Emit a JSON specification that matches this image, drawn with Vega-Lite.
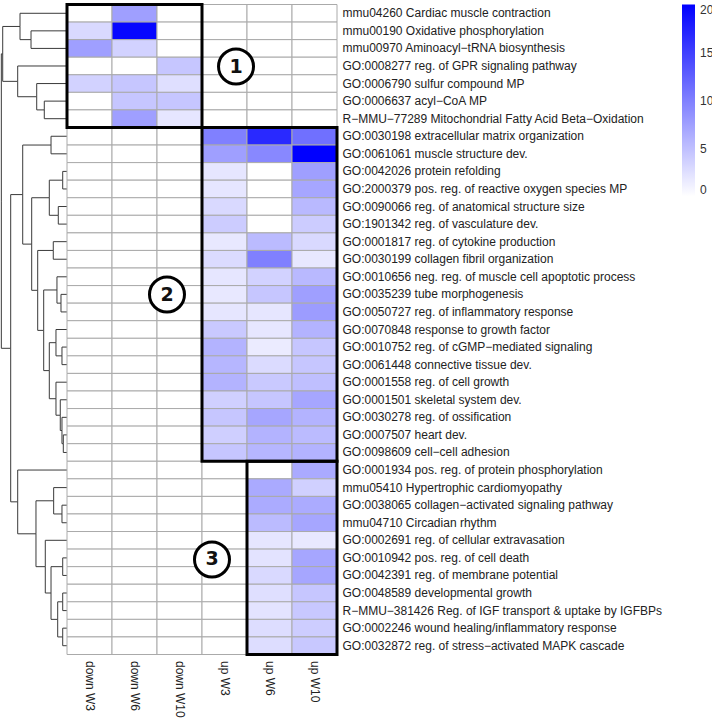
{
  "$schema": "https://vega.github.io/schema/vega-lite/v6.json",
  "padding": {"left": 0, "top": 2.5, "right": 0, "bottom": 0},
  "config": {
    "view": {"stroke": null},
    "font": "Liberation Sans"
  },
  "spacing": 0,
  "bounds": "flush",
  "datasets": {
    "cells": [
      {"term": "mmu04260 Cardiac muscle contraction", "down W3": 0, "down W6": 7.5, "down W10": 0, "up W3": 0, "up W6": 0, "up W10": 0},
      {"term": "mmu00190 Oxidative phosphorylation", "down W3": 3, "down W6": 19.5, "down W10": 0, "up W3": 0, "up W6": 0, "up W10": 0},
      {"term": "mmu00970 Aminoacyl−tRNA biosynthesis", "down W3": 7.5, "down W6": 3.5, "down W10": 0, "up W3": 0, "up W6": 0, "up W10": 0},
      {"term": "GO:0008277 reg. of GPR signaling pathway", "down W3": 0, "down W6": 0, "down W10": 4.5, "up W3": 0, "up W6": 0, "up W10": 0},
      {"term": "GO:0006790 sulfur compound MP", "down W3": 3.5, "down W6": 4.5, "down W10": 2.5, "up W3": 0, "up W6": 0, "up W10": 0},
      {"term": "GO:0006637 acyl−CoA MP", "down W3": 0, "down W6": 4.5, "down W10": 4.5, "up W3": 0, "up W6": 0, "up W10": 0},
      {"term": "R−MMU−77289 Mitochondrial Fatty Acid Beta−Oxidation", "down W3": 0, "down W6": 7.5, "down W10": 2, "up W3": 0, "up W6": 0, "up W10": 0},
      {"term": "GO:0030198 extracellular matrix organization", "down W3": 0, "down W6": 0, "down W10": 0, "up W3": 10, "up W6": 16.8, "up W10": 11.2},
      {"term": "GO:0061061 muscle structure dev.", "down W3": 0, "down W6": 0, "down W10": 0, "up W3": 7.5, "up W6": 9.3, "up W10": 20},
      {"term": "GO:0042026 protein refolding", "down W3": 0, "down W6": 0, "down W10": 0, "up W3": 2, "up W6": 0, "up W10": 7.5},
      {"term": "GO:2000379 pos. reg. of reactive oxygen species MP", "down W3": 0, "down W6": 0, "down W10": 0, "up W3": 2, "up W6": 0, "up W10": 7},
      {"term": "GO:0090066 reg. of anatomical structure size", "down W3": 0, "down W6": 0, "down W10": 0, "up W3": 3, "up W6": 0, "up W10": 5.5},
      {"term": "GO:1901342 reg. of vasculature dev.", "down W3": 0, "down W6": 0, "down W10": 0, "up W3": 4, "up W6": 0, "up W10": 4},
      {"term": "GO:0001817 reg. of cytokine production", "down W3": 0, "down W6": 0, "down W10": 0, "up W3": 1.8, "up W6": 5.3, "up W10": 3},
      {"term": "GO:0030199 collagen fibril organization", "down W3": 0, "down W6": 0, "down W10": 0, "up W3": 2.8, "up W6": 10, "up W10": 1.8},
      {"term": "GO:0010656 neg. reg. of muscle cell apoptotic process", "down W3": 0, "down W6": 0, "down W10": 0, "up W3": 2, "up W6": 3.5, "up W10": 5.5},
      {"term": "GO:0035239 tube morphogenesis", "down W3": 0, "down W6": 0, "down W10": 0, "up W3": 1.8, "up W6": 4.5, "up W10": 7.5},
      {"term": "GO:0050727 reg. of inflammatory response", "down W3": 0, "down W6": 0, "down W10": 0, "up W3": 2, "up W6": 2, "up W10": 7.8},
      {"term": "GO:0070848 response to growth factor", "down W3": 0, "down W6": 0, "down W10": 0, "up W3": 4.2, "up W6": 2, "up W10": 6},
      {"term": "GO:0010752 reg. of cGMP−mediated signaling", "down W3": 0, "down W6": 0, "down W10": 0, "up W3": 6, "up W6": 1.6, "up W10": 4.5},
      {"term": "GO:0061448 connective tissue dev.", "down W3": 0, "down W6": 0, "down W10": 0, "up W3": 5.7, "up W6": 2.8, "up W10": 4.5},
      {"term": "GO:0001558 reg. of cell growth", "down W3": 0, "down W6": 0, "down W10": 0, "up W3": 6, "up W6": 4.2, "up W10": 5},
      {"term": "GO:0001501 skeletal system dev.", "down W3": 0, "down W6": 0, "down W10": 0, "up W3": 3.7, "up W6": 4.5, "up W10": 7},
      {"term": "GO:0030278 reg. of ossification", "down W3": 0, "down W6": 0, "down W10": 0, "up W3": 4.5, "up W6": 7, "up W10": 6},
      {"term": "GO:0007507 heart dev.", "down W3": 0, "down W6": 0, "down W10": 0, "up W3": 3.8, "up W6": 6, "up W10": 5.3},
      {"term": "GO:0098609 cell−cell adhesion", "down W3": 0, "down W6": 0, "down W10": 0, "up W3": 4.5, "up W6": 5.7, "up W10": 6},
      {"term": "GO:0001934 pos. reg. of protein phosphorylation", "down W3": 0, "down W6": 0, "down W10": 0, "up W3": 0, "up W6": 0, "up W10": 6.7},
      {"term": "mmu05410 Hypertrophic cardiomyopathy", "down W3": 0, "down W6": 0, "down W10": 0, "up W3": 0, "up W6": 6.7, "up W10": 3.7},
      {"term": "GO:0038065 collagen−activated signaling pathway", "down W3": 0, "down W6": 0, "down W10": 0, "up W3": 0, "up W6": 6.6, "up W10": 6.6},
      {"term": "mmu04710 Circadian rhythm", "down W3": 0, "down W6": 0, "down W10": 0, "up W3": 0, "up W6": 5.3, "up W10": 7},
      {"term": "GO:0002691 reg. of cellular extravasation", "down W3": 0, "down W6": 0, "down W10": 0, "up W3": 0, "up W6": 2, "up W10": 1.8},
      {"term": "GO:0010942 pos. reg. of cell death", "down W3": 0, "down W6": 0, "down W10": 0, "up W3": 0, "up W6": 2.2, "up W10": 7},
      {"term": "GO:0042391 reg. of membrane potential", "down W3": 0, "down W6": 0, "down W10": 0, "up W3": 0, "up W6": 3, "up W10": 7},
      {"term": "GO:0048589 developmental growth", "down W3": 0, "down W6": 0, "down W10": 0, "up W3": 0, "up W6": 2.5, "up W10": 4.5},
      {"term": "R−MMU−381426 Reg. of IGF transport & uptake by IGFBPs", "down W3": 0, "down W6": 0, "down W10": 0, "up W3": 0, "up W6": 2.2, "up W10": 4.3},
      {"term": "GO:0002246 wound healing/inflammatory response", "down W3": 0, "down W6": 0, "down W10": 0, "up W3": 0, "up W6": 2.7, "up W10": 3.9},
      {"term": "GO:0032872 reg. of stress−activated MAPK cascade", "down W3": 0, "down W6": 0, "down W10": 0, "up W3": 0, "up W6": 2.7, "up W10": 4.3}
    ],
    "tree": [
      {"h": 0, "r": 0.5, "ph": 0.712, "pr": 1.25},
      {"h": 0, "r": 1.5, "ph": 0.545, "pr": 2},
      {"h": 0, "r": 2.5, "ph": 0.545, "pr": 2},
      {"h": 0, "r": 3.5, "ph": 0.747, "pr": 4.375},
      {"h": 0, "r": 4.5, "ph": 0.459, "pr": 5.25},
      {"h": 0, "r": 5.5, "ph": 0.344, "pr": 6},
      {"h": 0, "r": 6.5, "ph": 0.344, "pr": 6},
      {"h": 0, "r": 7.5, "ph": 0.242, "pr": 8},
      {"h": 0, "r": 8.5, "ph": 0.242, "pr": 8},
      {"h": 0, "r": 9.5, "ph": 0.065, "pr": 10},
      {"h": 0, "r": 10.5, "ph": 0.065, "pr": 10},
      {"h": 0, "r": 11.5, "ph": 0.132, "pr": 12},
      {"h": 0, "r": 12.5, "ph": 0.132, "pr": 12},
      {"h": 0, "r": 13.5, "ph": 0.208, "pr": 14},
      {"h": 0, "r": 14.5, "ph": 0.208, "pr": 14},
      {"h": 0, "r": 15.5, "ph": 0.152, "pr": 16.25},
      {"h": 0, "r": 16.5, "ph": 0.091, "pr": 17},
      {"h": 0, "r": 17.5, "ph": 0.091, "pr": 17},
      {"h": 0, "r": 18.5, "ph": 0.167, "pr": 19.25},
      {"h": 0, "r": 19.5, "ph": 0.076, "pr": 20},
      {"h": 0, "r": 20.5, "ph": 0.076, "pr": 20},
      {"h": 0, "r": 21.5, "ph": 0.167, "pr": 22.44},
      {"h": 0, "r": 22.5, "ph": 0.102, "pr": 23.38},
      {"h": 0, "r": 23.5, "ph": 0.076, "pr": 24.25},
      {"h": 0, "r": 24.5, "ph": 0.056, "pr": 25},
      {"h": 0, "r": 25.5, "ph": 0.056, "pr": 25},
      {"h": 0, "r": 26.5, "ph": 0.747, "pr": 28.31},
      {"h": 0, "r": 27.5, "ph": 0.202, "pr": 28.25},
      {"h": 0, "r": 28.5, "ph": 0.076, "pr": 29},
      {"h": 0, "r": 29.5, "ph": 0.076, "pr": 29},
      {"h": 0, "r": 30.5, "ph": 0.329, "pr": 32},
      {"h": 0, "r": 31.5, "ph": 0.065, "pr": 32},
      {"h": 0, "r": 32.5, "ph": 0.065, "pr": 32},
      {"h": 0, "r": 33.5, "ph": 0.065, "pr": 34},
      {"h": 0, "r": 34.5, "ph": 0.065, "pr": 34},
      {"h": 0, "r": 35.5, "ph": 0.065, "pr": 36},
      {"h": 0, "r": 36.5, "ph": 0.065, "pr": 36},
      {"h": 0.545, "r": 2, "ph": 0.712, "pr": 1.25},
      {"h": 0.712, "r": 1.25, "ph": 0.974, "pr": 2.81},
      {"h": 0.344, "r": 6, "ph": 0.459, "pr": 5.25},
      {"h": 0.459, "r": 5.25, "ph": 0.747, "pr": 4.375},
      {"h": 0.747, "r": 4.375, "ph": 0.974, "pr": 2.81},
      {"h": 0.974, "r": 2.81, "ph": 0.995, "pr": 11.19},
      {"h": 0.242, "r": 8, "ph": 0.671, "pr": 10.82},
      {"h": 0.065, "r": 10, "ph": 0.268, "pr": 11},
      {"h": 0.132, "r": 12, "ph": 0.268, "pr": 11},
      {"h": 0.268, "r": 11, "ph": 0.535, "pr": 13.64},
      {"h": 0.208, "r": 14, "ph": 0.444, "pr": 16.27},
      {"h": 0.091, "r": 17, "ph": 0.152, "pr": 16.25},
      {"h": 0.152, "r": 16.25, "ph": 0.353, "pr": 18.55},
      {"h": 0.076, "r": 20, "ph": 0.167, "pr": 19.25},
      {"h": 0.167, "r": 19.25, "ph": 0.268, "pr": 20.84},
      {"h": 0.056, "r": 25, "ph": 0.076, "pr": 24.25},
      {"h": 0.076, "r": 24.25, "ph": 0.102, "pr": 23.38},
      {"h": 0.102, "r": 23.38, "ph": 0.167, "pr": 22.44},
      {"h": 0.167, "r": 22.44, "ph": 0.268, "pr": 20.84},
      {"h": 0.268, "r": 20.84, "ph": 0.353, "pr": 18.55},
      {"h": 0.353, "r": 18.55, "ph": 0.444, "pr": 16.27},
      {"h": 0.444, "r": 16.27, "ph": 0.535, "pr": 13.64},
      {"h": 0.535, "r": 13.64, "ph": 0.671, "pr": 10.82},
      {"h": 0.671, "r": 10.82, "ph": 0.853, "pr": 19.57},
      {"h": 0.076, "r": 29, "ph": 0.202, "pr": 28.25},
      {"h": 0.202, "r": 28.25, "ph": 0.47, "pr": 30.13},
      {"h": 0.065, "r": 32, "ph": 0.242, "pr": 33.5},
      {"h": 0.065, "r": 34, "ph": 0.141, "pr": 35},
      {"h": 0.065, "r": 36, "ph": 0.141, "pr": 35},
      {"h": 0.141, "r": 35, "ph": 0.242, "pr": 33.5},
      {"h": 0.242, "r": 33.5, "ph": 0.329, "pr": 32},
      {"h": 0.329, "r": 32, "ph": 0.47, "pr": 30.13},
      {"h": 0.47, "r": 30.13, "ph": 0.747, "pr": 28.31},
      {"h": 0.747, "r": 28.31, "ph": 0.853, "pr": 19.57},
      {"h": 0.853, "r": 19.57, "ph": 0.995, "pr": 11.19}
    ],
    "boxes": [
      {"c1": 0, "c2": 3, "r1": 0, "r2": 7},
      {"c1": 3, "c2": 6, "r1": 7, "r2": 26},
      {"c1": 4, "c2": 6, "r1": 26, "r2": 37}
    ],
    "clusters": [
      {"label": "1", "c": 3.756, "r": 3.53},
      {"label": "2", "c": 2.222, "r": 16.51},
      {"label": "3", "c": 3.222, "r": 31.59}
    ]
  },
  "hconcat": [
    {
      "width": 66,
      "height": 650,
      "data": {"name": "tree"},
      "layer": [
        {
          "mark": {"type": "rule", "color": "#3a3a3a", "strokeWidth": 1},
          "encoding": {
            "x": {"field": "h", "type": "quantitative", "scale": {"domain": [0, 1], "reverse": true, "nice": false}, "axis": null},
            "x2": {"field": "ph"},
            "y": {"field": "r", "type": "quantitative", "scale": {"domain": [0, 37], "reverse": true, "nice": false, "zero": false}, "axis": null}
          }
        },
        {
          "mark": {"type": "rule", "color": "#3a3a3a", "strokeWidth": 1},
          "encoding": {
            "x": {"field": "ph", "type": "quantitative", "scale": {"domain": [0, 1], "reverse": true, "nice": false}, "axis": null},
            "y": {"field": "r", "type": "quantitative", "scale": {"domain": [0, 37], "reverse": true, "nice": false, "zero": false}, "axis": null},
            "y2": {"field": "pr"}
          }
        }
      ]
    },
    {
      "width": 270,
      "height": 650,
      "layer": [
        {
          "data": {"name": "cells"},
          "transform": [{"fold": ["down W3", "down W6", "down W10", "up W3", "up W6", "up W10"], "as": ["col", "value"]}],
          "mark": {"type": "rect", "stroke": "#aaaaaa", "strokeWidth": 1},
          "encoding": {
            "x": {
              "field": "col", "type": "nominal", "sort": null,
              "scale": {"paddingInner": 0, "paddingOuter": 0},
              "axis": {"title": null, "orient": "bottom", "labelAngle": 90, "labelAlign": "left", "labelBaseline": "middle", "ticks": false, "domain": false, "labelPadding": 6, "labelFontSize": 12, "labelColor": "#222222", "labelFont": "Liberation Sans"}
            },
            "y": {
              "field": "term", "type": "nominal", "sort": null,
              "scale": {"paddingInner": 0, "paddingOuter": 0},
              "axis": {"title": null, "orient": "right", "ticks": false, "domain": false, "labelPadding": 5, "labelFontSize": 12, "labelColor": "#222222", "labelLimit": 500, "labelFont": "Liberation Sans"}
            },
            "color": {
              "field": "value", "type": "quantitative",
              "scale": {"domain": [0, 20], "range": ["#ffffff", "#0000ff"], "interpolate": "rgb"},
              "legend": {"orient": "none", "legendX": 681, "legendY": 0, "title": null, "direction": "vertical", "gradientLength": 192, "gradientThickness": 13, "gradientStrokeWidth": 0, "values": [0, 5, 10, 15, 20], "labelFontSize": 12, "labelColor": "#333333", "labelOffset": 5, "padding": 0, "labelFont": "Liberation Sans"}
            }
          }
        },
        {
          "data": {"name": "boxes"},
          "mark": {"type": "rect", "fillOpacity": 0, "stroke": "#000000", "strokeWidth": 3},
          "encoding": {
            "x": {"field": "c1", "type": "quantitative", "scale": {"domain": [0, 6], "nice": false, "zero": false}, "axis": null},
            "x2": {"field": "c2"},
            "y": {"field": "r1", "type": "quantitative", "scale": {"domain": [0, 37], "reverse": true, "nice": false, "zero": false}, "axis": null},
            "y2": {"field": "r2"}
          }
        },
        {
          "data": {"name": "clusters"},
          "mark": {"type": "point", "shape": "circle", "size": 1225, "filled": true, "fill": "#ffffff", "stroke": "#000000", "strokeWidth": 3, "opacity": 1},
          "encoding": {
            "x": {"field": "c", "type": "quantitative", "scale": {"domain": [0, 6], "nice": false, "zero": false}, "axis": null},
            "y": {"field": "r", "type": "quantitative", "scale": {"domain": [0, 37], "reverse": true, "nice": false, "zero": false}, "axis": null}
          }
        },
        {
          "data": {"name": "clusters"},
          "mark": {"type": "text", "font": "DejaVu Sans", "fontWeight": "bold", "fontSize": 19, "align": "center", "baseline": "middle", "color": "#111111"},
          "encoding": {
            "x": {"field": "c", "type": "quantitative", "scale": {"domain": [0, 6], "nice": false, "zero": false}, "axis": null},
            "y": {"field": "r", "type": "quantitative", "scale": {"domain": [0, 37], "reverse": true, "nice": false, "zero": false}, "axis": null},
            "text": {"field": "label"}
          }
        }
      ],
      "resolve": {"scale": {"x": "independent", "y": "independent"}}
    }
  ]
}
